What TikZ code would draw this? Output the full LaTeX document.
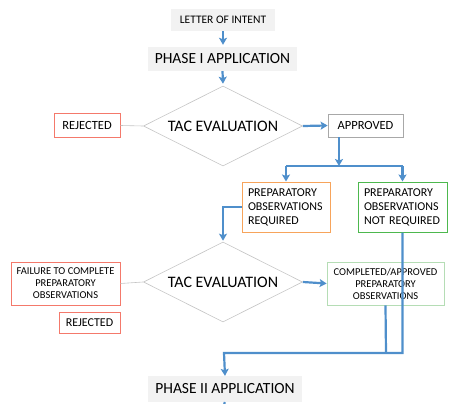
\documentclass[tikz,border=0pt]{standalone}
\usepackage{fontspec}
\setmainfont{Carlito}
\usetikzlibrary{shapes.geometric,arrows.meta,calc}
\definecolor{bl}{HTML}{4F8FCB}
\definecolor{rd}{HTML}{F4796B}
\definecolor{org}{HTML}{F7A45B}
\definecolor{grn}{HTML}{4DB84E}
\definecolor{lgrn}{HTML}{B5DDB5}
\definecolor{gbord}{HTML}{C4C4C4}
\definecolor{abord}{HTML}{A8A8A8}
\definecolor{gfill}{HTML}{F2F2F2}
\tikzset{
  phasebox/.style={fill=gfill,draw=none,inner sep=0pt,align=center},
  evalbox/.style={diamond,draw=gbord,line width=0.6pt,aspect=2,inner sep=0pt,minimum width=159pt,minimum height=80pt,font=\fontsize{16}{18}\selectfont},
  redbox/.style={draw=rd,line width=1pt,inner sep=0pt,align=center},
  bluearr/.style={draw=bl,line width=2.2pt,-{Stealth[length=7pt,width=8pt,inset=1.5pt]}},
  blueline/.style={draw=bl,line width=2.2pt},
  greyline/.style={draw=gbord,line width=0.6pt},
}
\begin{document}
\begin{tikzpicture}[x=1pt,y=-1pt]
\useasboundingbox (0,0) rectangle (461,404);
% nodes
\node[phasebox,minimum width=104pt,minimum height=22pt,font=\fontsize{11.5}{13}\selectfont] (loi) at (223,20) {LETTER OF INTENT};
\node[phasebox,minimum width=149pt,minimum height=24pt,font=\fontsize{15.5}{17}\selectfont] (ph1) at (222.5,59) {PHASE I APPLICATION};
\node[evalbox] (tac1) at (223,126) {TAC EVALUATION};
\node[redbox,minimum width=66pt,minimum height=23pt,font=\fontsize{12.5}{14}\selectfont] (rej1) at (87,125.5) {REJECTED};
\node[draw=abord,line width=0.8pt,inner sep=0pt,minimum width=75pt,minimum height=23pt,font=\fontsize{12.5}{14}\selectfont] (appr) at (365.5,125.5) {APPROVED};
\node[draw=org,line width=1pt,inner xsep=6pt,inner ysep=0pt,text width=76pt,align=left,minimum height=50pt,font=\fontsize{12}{14}\selectfont] (preq) at (286,207) {PREPARATORY\\OBSERVATIONS\\REQUIRED};
\node[draw=grn,line width=1pt,inner xsep=6pt,inner ysep=0pt,text width=77pt,align=left,minimum height=50pt,font=\fontsize{12}{14}\selectfont] (pnot) at (402.5,207) {PREPARATORY\\OBSERVATIONS\\NOT REQUIRED};
\node[evalbox] (tac2) at (223,282) {TAC EVALUATION};
\node[redbox,minimum width=109pt,minimum height=43pt,font=\fontsize{10.5}{12}\selectfont] (fail) at (65.5,283.5) {FAILURE TO COMPLETE\\PREPARATORY\\OBSERVATIONS};
\node[redbox,minimum width=61pt,minimum height=21pt,font=\fontsize{12}{14}\selectfont] (rej2) at (89.5,322.5) {REJECTED};
\node[draw=lgrn,line width=0.8pt,inner sep=0pt,align=center,minimum width=117pt,minimum height=43pt,font=\fontsize{10.5}{12}\selectfont] (comp) at (385.5,283.5) {COMPLETED/APPROVED\\PREPARATORY\\OBSERVATIONS};
\node[phasebox,minimum width=154pt,minimum height=26pt,font=\fontsize{15.5}{17}\selectfont] (ph2) at (225,389) {PHASE II APPLICATION};
% coordinates
\coordinate (s1) at (339,166);
\coordinate (j) at (224,353);
\coordinate (k) at (386,353);
\coordinate (stub) at (224,404);
% connectors
\draw[bluearr] (loi.south) -- ($(ph1.north)+(0.5,-2)$);
\draw[bluearr] (ph1.south) -- ($(tac1.north)+(0,-2)$);
\draw[greyline] (rej1.east) -- (tac1.west);
\draw[bluearr] (tac1.east) -- (appr.west);
\draw[bluearr] (appr.south -| s1) -- (s1);
\draw[blueline] (preq.north |- s1) -- (pnot.north |- s1);
\draw[bluearr] (preq.north |- s1) -- (preq.north);
\draw[bluearr] (pnot.north |- s1) -- (pnot.north);
\draw[bluearr] (preq.west) -| ($(tac2.north)+(0,-1)$);
\draw[greyline] (fail.east) -- (tac2.west);
\draw[bluearr] (tac2.east) -- (comp.west);
\draw[blueline] (comp.south) -- (k);
\draw[bluearr] (pnot.south) |- (j) -- (ph2.north);
\draw[blueline] (ph2.south) -- (stub);
\end{tikzpicture}
\end{document}
